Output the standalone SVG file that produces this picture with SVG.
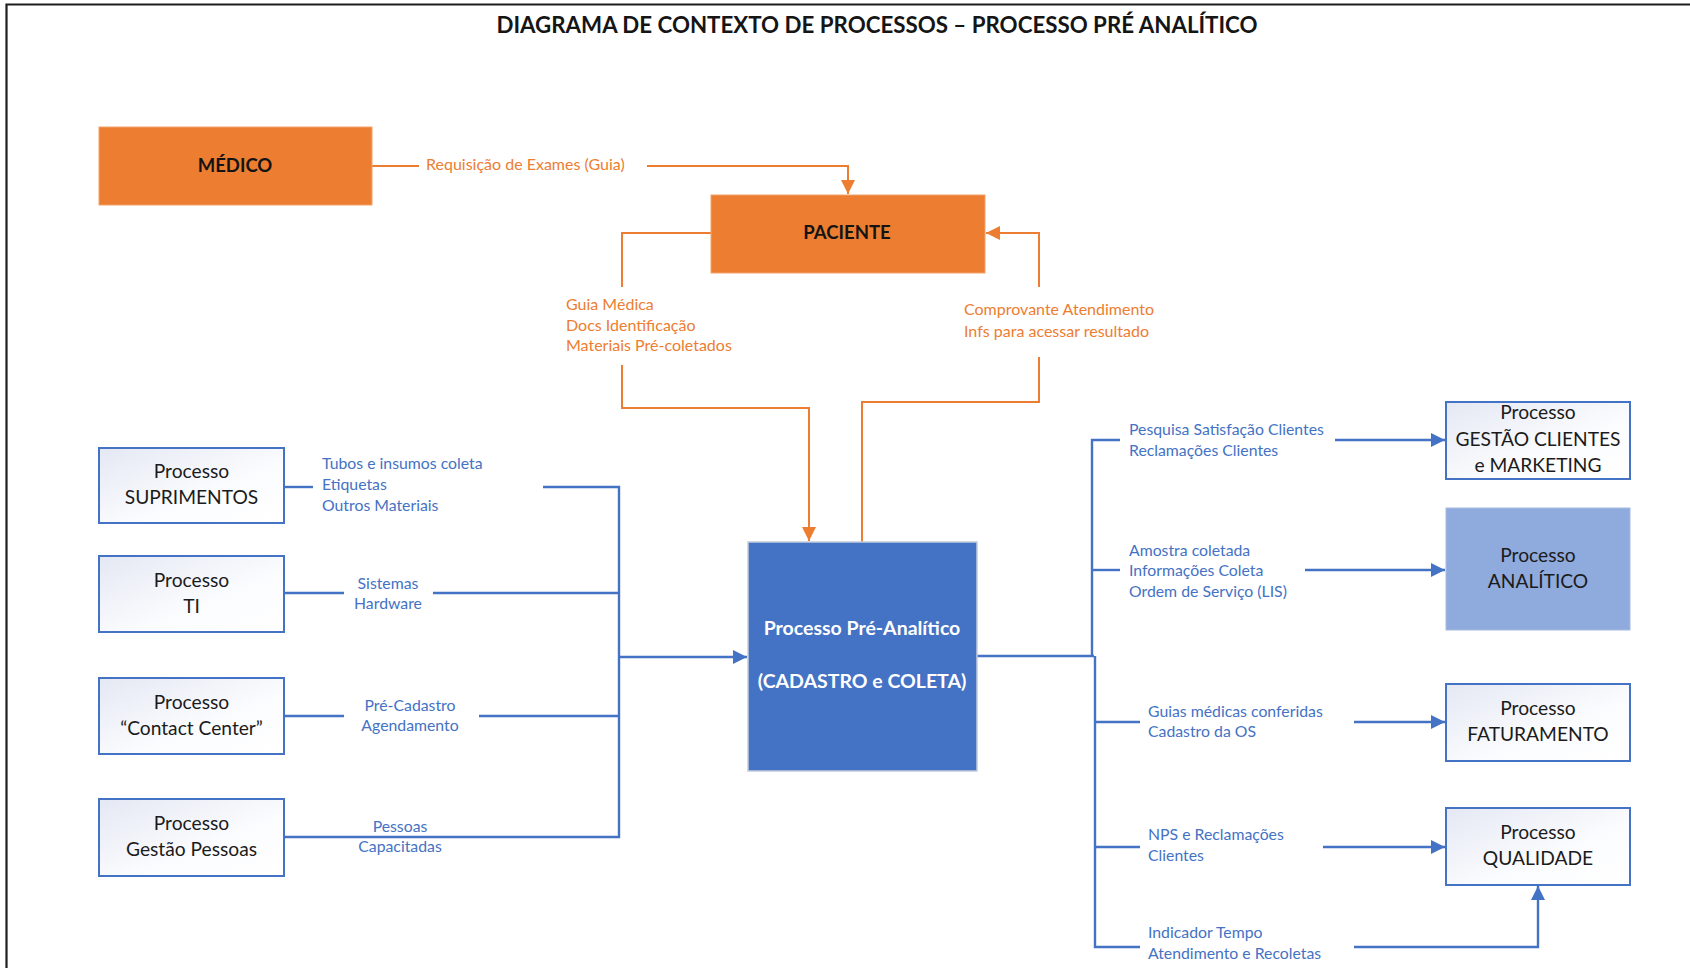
<svg xmlns="http://www.w3.org/2000/svg" width="1690" height="968" viewBox="0 0 1690 968">
  <defs>
    <linearGradient id="boxFill" x1="0" y1="0" x2="1" y2="1">
      <stop offset="0" stop-color="#e4e8f3"/>
      <stop offset="0.6" stop-color="#fbfcfe"/>
      <stop offset="1" stop-color="#ffffff"/>
    </linearGradient>
    <marker id="arrBlue" viewBox="0 0 10 10" refX="10" refY="5" markerWidth="6" markerHeight="6" markerUnits="strokeWidth" orient="auto">
      <path d="M0,0 L10,5 L0,10 z" fill="#4472c4"/>
    </marker>
    <marker id="arrOrange" viewBox="0 0 10 10" refX="10" refY="5" markerWidth="7" markerHeight="7" markerUnits="strokeWidth" orient="auto">
      <path d="M0,0 L10,5 L0,10 z" fill="#ed7d31"/>
    </marker>
  </defs>
  <style>
    .frame { stroke: #1e1e1e; stroke-width: 2.2; fill: none; }
    .title { font-family: Lato, "Liberation Sans", sans-serif; font-weight: bold; font-size: 22.3px; fill: #151515; }
    .orangeBox { fill: #ed7d31; stroke: #f2a36d; stroke-width: 1; }
    .orangeTxt { font-family: Lato, "Liberation Sans", sans-serif; font-weight: bold; font-size: 18.5px; fill: #141414; text-anchor: middle; }
    .procBox { fill: url(#boxFill); stroke: #4472c4; stroke-width: 2; }
    .analBox { fill: #8faadc; stroke: #a7bbe2; stroke-width: 1; }
    .coreBox { fill: #4472c4; stroke: #c3cbdc; stroke-width: 1.5; }
    .coreTxt { font-family: Lato, "Liberation Sans", sans-serif; font-weight: bold; font-size: 19.5px; fill: #ffffff; text-anchor: middle; }
    .procTxt { font-family: Lato, "Liberation Sans", sans-serif; font-size: 19.2px; fill: #1b1b1b; text-anchor: middle; }
    .lblB { font-family: Lato, "Liberation Sans", sans-serif; font-size: 15.8px; fill: #4472c4; }
    .lblO { font-family: Lato, "Liberation Sans", sans-serif; font-size: 16px; fill: #ed7d31; }
    .mid { text-anchor: middle; }
    .lnB { stroke: #4472c4; stroke-width: 2.4; fill: none; }
    .lnO { stroke: #ed7d31; stroke-width: 2; fill: none; }
  </style>

  <rect width="1690" height="968" fill="#ffffff"/>
  <!-- page frame: top and left rules -->
  <path class="frame" d="M6.5,968 V4.5 H1690"/>

  <text class="title" x="877" y="33" text-anchor="middle">DIAGRAMA DE CONTEXTO DE PROCESSOS – PROCESSO PRÉ ANALÍTICO</text>

  <!-- connectors -->
  <g id="connectors">
    <!-- Médico to Paciente -->
    <path class="lnO" d="M372,166 H419"/>
    <path class="lnO" d="M647,166 H848 V194" marker-end="url(#arrOrange)"/>
    <!-- Paciente down to central process -->
    <path class="lnO" d="M711,233 H622 V287"/>
    <path class="lnO" d="M622,365 V408 H809 V541" marker-end="url(#arrOrange)"/>
    <!-- central process back up to Paciente -->
    <path class="lnO" d="M862,542 V402 H1039 V357"/>
    <path class="lnO" d="M1039,287 V233 H986" marker-end="url(#arrOrange)"/>

    <!-- supplier processes into the left bus -->
    <path class="lnB" d="M284,487 H313"/>
    <path class="lnB" d="M543,487 H619 V837 H284"/>
    <path class="lnB" d="M284,593 H344"/>
    <path class="lnB" d="M433,593 H619"/>
    <path class="lnB" d="M284,716 H344"/>
    <path class="lnB" d="M479,716 H619"/>
    <path class="lnB" d="M619,657 H747" marker-end="url(#arrBlue)"/>

    <!-- outputs from the central process -->
    <path class="lnB" d="M977,656 H1094"/>
    <path class="lnB" d="M1120,440 H1092 V656"/>
    <path class="lnB" d="M1095,656 V947 H1140"/>
    <path class="lnB" d="M1092,570 H1120"/>
    <path class="lnB" d="M1095,722 H1140"/>
    <path class="lnB" d="M1095,847 H1140"/>
    <path class="lnB" d="M1335,440 H1445" marker-end="url(#arrBlue)"/>
    <path class="lnB" d="M1305,570 H1445" marker-end="url(#arrBlue)"/>
    <path class="lnB" d="M1354,722 H1445" marker-end="url(#arrBlue)"/>
    <path class="lnB" d="M1323,847 H1445" marker-end="url(#arrBlue)"/>
    <path class="lnB" d="M1354,947 H1538 V886" marker-end="url(#arrBlue)"/>
  </g>

  <!-- flow labels -->
  <g id="labels">
    <text class="lblO" x="426" y="170">Requisição de Exames (Guia)</text>
    <text class="lblO" x="566" y="310">Guia Médica</text>
    <text class="lblO" x="566" y="330.5">Docs Identificação</text>
    <text class="lblO" x="566" y="351">Materiais Pré-coletados</text>
    <text class="lblO" x="964" y="315">Comprovante Atendimento</text>
    <text class="lblO" x="964" y="337">Infs para acessar resultado</text>

    <text class="lblB" x="322" y="469">Tubos e insumos coleta</text>
    <text class="lblB" x="322" y="490">Etiquetas</text>
    <text class="lblB" x="322" y="511">Outros Materiais</text>
    <text class="lblB mid" x="388" y="589">Sistemas</text>
    <text class="lblB mid" x="388" y="609">Hardware</text>
    <text class="lblB mid" x="410" y="711">Pré-Cadastro</text>
    <text class="lblB mid" x="410" y="731">Agendamento</text>
    <text class="lblB mid" x="400" y="832">Pessoas</text>
    <text class="lblB mid" x="400" y="852">Capacitadas</text>

    <text class="lblB" x="1129" y="435">Pesquisa Satisfação Clientes</text>
    <text class="lblB" x="1129" y="456">Reclamações Clientes</text>
    <text class="lblB" x="1129" y="556">Amostra coletada</text>
    <text class="lblB" x="1129" y="576">Informações Coleta</text>
    <text class="lblB" x="1129" y="597">Ordem de Serviço (LIS)</text>
    <text class="lblB" x="1148" y="717">Guias médicas conferidas</text>
    <text class="lblB" x="1148" y="737">Cadastro da OS</text>
    <text class="lblB" x="1148" y="840">NPS e Reclamações</text>
    <text class="lblB" x="1148" y="861">Clientes</text>
    <text class="lblB" x="1148" y="938">Indicador Tempo</text>
    <text class="lblB" x="1148" y="959">Atendimento e Recoletas</text>
  </g>

  <!-- external entities -->
  <g id="medico">
    <rect class="orangeBox" x="99" y="127" width="273" height="78"/>
    <text class="orangeTxt" x="235" y="172">MÉDICO</text>
  </g>
  <g id="paciente">
    <rect class="orangeBox" x="711" y="195" width="274" height="78"/>
    <text class="orangeTxt" x="847" y="239">PACIENTE</text>
  </g>

  <!-- central process -->
  <g id="pre-analitico">
    <rect class="coreBox" x="748" y="542" width="229" height="229"/>
    <text class="coreTxt" x="862" y="635">Processo Pré-Analítico</text>
    <text class="coreTxt" x="862" y="688">(CADASTRO e COLETA)</text>
  </g>

  <!-- supplier processes -->
  <g id="suprimentos">
    <rect class="procBox" x="99" y="448" width="185" height="75"/>
    <text class="procTxt" x="191.5" y="478">Processo</text>
    <text class="procTxt" x="191.5" y="504">SUPRIMENTOS</text>
  </g>
  <g id="ti">
    <rect class="procBox" x="99" y="556" width="185" height="76"/>
    <text class="procTxt" x="191.5" y="587">Processo</text>
    <text class="procTxt" x="191.5" y="613">TI</text>
  </g>
  <g id="contact-center">
    <rect class="procBox" x="99" y="678" width="185" height="76"/>
    <text class="procTxt" x="191.5" y="709">Processo</text>
    <text class="procTxt" x="191.5" y="735">“Contact Center”</text>
  </g>
  <g id="gestao-pessoas">
    <rect class="procBox" x="99" y="799" width="185" height="77"/>
    <text class="procTxt" x="191.5" y="830">Processo</text>
    <text class="procTxt" x="191.5" y="856">Gestão Pessoas</text>
  </g>

  <!-- customer processes -->
  <g id="gestao-clientes">
    <rect class="procBox" x="1446" y="402" width="184" height="77"/>
    <text class="procTxt" x="1538" y="419">Processo</text>
    <text class="procTxt" x="1538" y="446">GESTÃO CLIENTES</text>
    <text class="procTxt" x="1538" y="472">e MARKETING</text>
  </g>
  <g id="analitico">
    <rect class="analBox" x="1446" y="508" width="184" height="122"/>
    <text class="procTxt" x="1538" y="562">Processo</text>
    <text class="procTxt" x="1538" y="588">ANALÍTICO</text>
  </g>
  <g id="faturamento">
    <rect class="procBox" x="1446" y="684" width="184" height="77"/>
    <text class="procTxt" x="1538" y="715">Processo</text>
    <text class="procTxt" x="1538" y="741">FATURAMENTO</text>
  </g>
  <g id="qualidade">
    <rect class="procBox" x="1446" y="808" width="184" height="77"/>
    <text class="procTxt" x="1538" y="839">Processo</text>
    <text class="procTxt" x="1538" y="865">QUALIDADE</text>
  </g>
</svg>
